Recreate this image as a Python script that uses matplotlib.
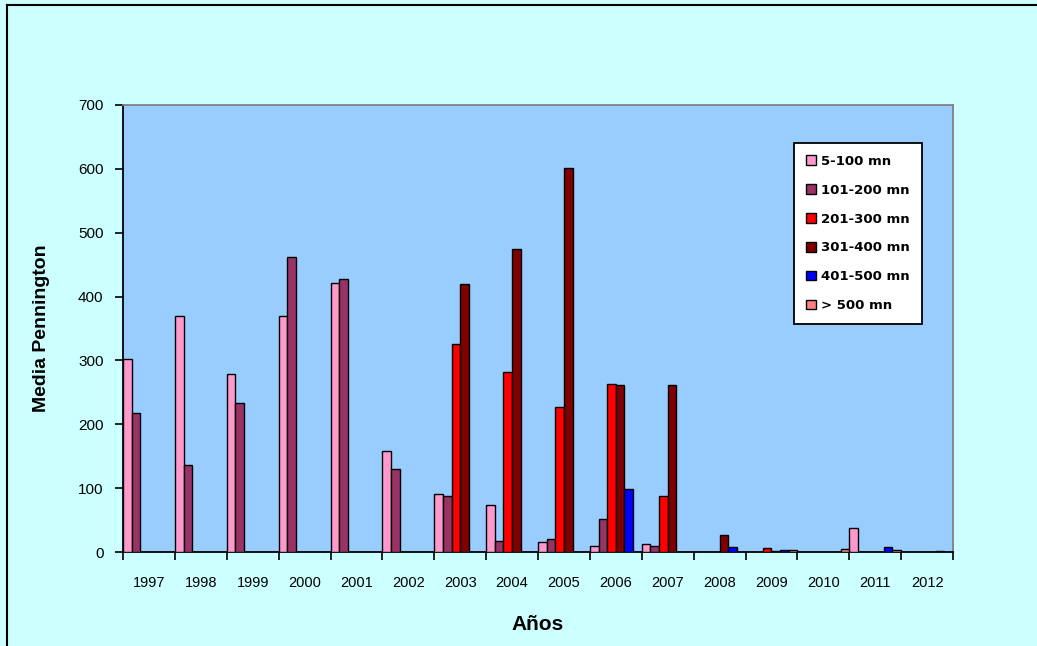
import matplotlib
matplotlib.use("Agg")
from matplotlib import pyplot as plt
from matplotlib.patches import Patch
from matplotlib.lines import Line2D
import numpy as np

plt.rcParams['font.family'] = ['Liberation Sans', 'DejaVu Sans']

years = ['1997', '1998', '1999', '2000', '2001', '2002', '2003', '2004',
         '2005', '2006', '2007', '2008', '2009', '2010', '2011', '2012']
series = ['5-100 mn', '101-200 mn', '201-300 mn', '301-400 mn', '401-500 mn', '> 500 mn']
colores = ['#FF99CC', '#993366', '#FF0000', '#800000', '#0000FF', '#FF8080']

v_5_100 = [303, 370, 278, 370, 422, 158, 91, 73, 15, 10, 13, 0, 0, 0, 37, 0]
v_101_200 = [217, 137, 233, 462, 427, 130, 87, 18, 20, 52, 10, 0, 0, 0, 0, 0]
v_201_300 = [0, 0, 0, 0, 0, 0, 325, 282, 227, 263, 88, 0, 7, 0, 0, 0]
v_301_400 = [0, 0, 0, 0, 0, 0, 420, 475, 601, 261, 261, 27, 1, 0, 0, 0]
v_401_500 = [0, 0, 0, 0, 0, 0, 0, 0, 0, 98, 0, 8, 3, 0, 8, 1]
v_500 = [0, 0, 0, 0, 0, 0, 0, 0, 0, 0, 0, 0, 3, 5, 3, 0]
valores = [v_5_100, v_101_200, v_201_300, v_301_400, v_401_500, v_500]

W, H = 1037, 646
fig = plt.figure(figsize=(W / 100, H / 100), dpi=100, facecolor='#CCFFFF')
ax = fig.add_axes([123 / W, 1 - 552 / H, (953 - 123) / W, (552 - 105) / H])
ax.set_facecolor('#99CCFF')

x = np.arange(len(years))
n = len(series)
w = 1.0 / n
for k in range(n):
    vals = np.array(valores[k])
    mask = vals > 0
    ax.bar(x[mask] + (k + 0.5) * w, vals[mask], width=w, color=colores[k],
           edgecolor='black', linewidth=1.0, zorder=3)

ax.set_xlim(0, len(years))
ax.set_ylim(0, 700)
ax.set_yticks(range(0, 701, 100))
ax.set_xticks(np.arange(len(years) + 1))
ax.set_xticklabels([])
ax.set_xticks(x + 0.5, minor=True)
ax.set_xticklabels(years, minor=True)
ax.tick_params(axis='x', which='minor', length=0, pad=17, labelsize=10.5)
ax.tick_params(axis='x', which='major', direction='out', length=6, width=1.2, color='black')
ax.tick_params(axis='y', direction='out', length=6, width=1.2, labelsize=11, pad=8)

ax.spines['left'].set_color('black')
ax.spines['bottom'].set_color('black')
ax.spines['left'].set_linewidth(1.3)
ax.spines['bottom'].set_linewidth(1.3)
ax.spines['top'].set_color('#808080')
ax.spines['right'].set_color('#808080')
ax.spines['top'].set_linewidth(1.3)
ax.spines['right'].set_linewidth(1.3)

ax.set_xlabel('Años', fontsize=15, fontweight='bold', labelpad=18)
ax.set_ylabel('Media Pennington', fontsize=14, fontweight='bold', labelpad=20,
              family=['Liberation Sans Narrow', 'Liberation Sans', 'DejaVu Sans'])

handles = [Patch(facecolor=c, edgecolor='black', linewidth=1.0) for c in colores]
leg = ax.legend(handles, series, loc='upper left', bbox_to_anchor=((794 - 123) / 830, 1 - (143 - 105) / 447),
                frameon=True, fancybox=False, edgecolor='black', facecolor='white', framealpha=1,
                prop={'weight': 'bold', 'size': 9.5, 'family': 'DejaVu Sans'},
                handlelength=0.75, handleheight=0.75,
                handletextpad=0.4, labelspacing=1.2, borderpad=0.9, borderaxespad=0)
leg.get_frame().set_linewidth(1.3)

fig.add_artist(Line2D([7 / W, 7 / W], [-0.01, 1 - 5 / H], color='black', linewidth=1.5))
fig.add_artist(Line2D([7 / W, 1.01], [1 - 5 / H, 1 - 5 / H], color='black', linewidth=1.5))

fig.savefig('out.png', dpi=100, facecolor=fig.get_facecolor())
